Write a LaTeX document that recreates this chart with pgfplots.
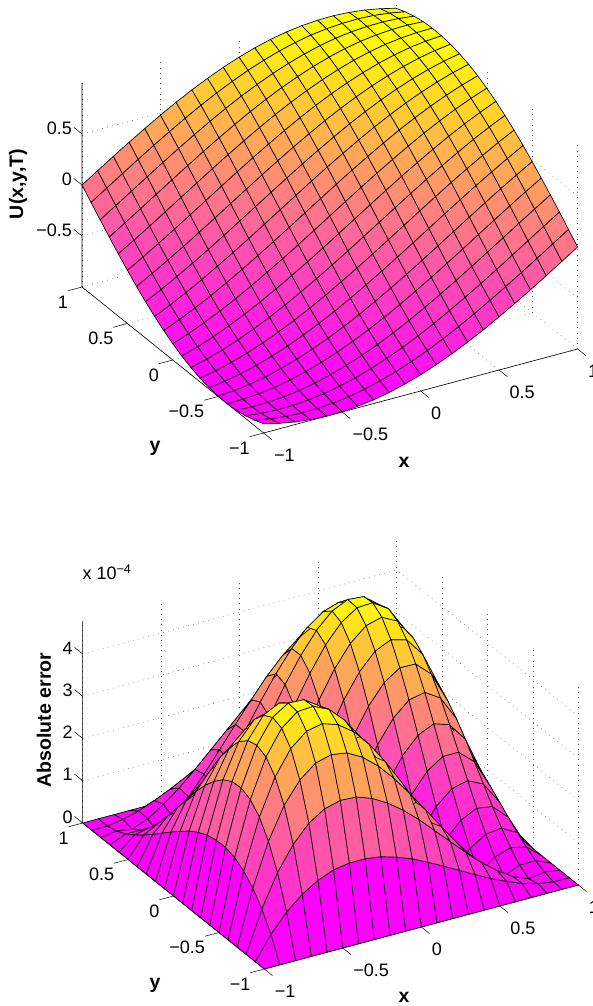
\documentclass[border=0pt]{standalone}
\usepackage{pgfplots}
\pgfplotsset{compat=1.18}
\usepackage{fontspec}
\setmainfont{Liberation Sans}
\newcommand{\tf}{\fontsize{18}{18}\selectfont}
\newcommand{\lf}{\bfseries\fontsize{19.5}{19.5}\selectfont}
\pgfplotsset{
 common/.style={
  x={(157pt,42pt)}, y={(-90.8pt,73pt)},
  xmin=-1,xmax=1,ymin=-1,ymax=1,
  clip=false, anchor=origin,
  axis line style={draw=none},
  xtick={-1,-0.5,0,0.5,1}, ytick={-1,-0.5,0,0.5,1},
  xticklabels={−1,−0.5,0,0.5,1}, yticklabels={−1,−0.5,0,0.5,1},
  grid=major,
  grid style={line width=.5pt,black!65,dash pattern=on .7pt off 4.5pt},
  major tick length=0pt,
  tick style={draw=none},
  tick label style={font=\tf,black,inner sep=0pt,outer sep=0pt},
  xticklabel style={anchor=west,xshift=10.5pt,yshift=-22pt},
  yticklabel style={anchor=east,xshift=-14pt,yshift=-15pt},
  zticklabel style={anchor=east,xshift=-10pt,yshift=6pt},
  colormap={spring}{rgb255(0cm)=(255,0,255); rgb255(1cm)=(255,255,0)},
 },
 surfs/.style={surf,shader=flat corner,draw=black,line width=.65pt,z buffer=sort,mesh/rows=21,mesh/cols=21}
}
\begin{document}
\begin{tikzpicture}
\clip (0,0) rectangle (592pt,1006pt);
\begin{axis}[common, at={(329.8pt,790pt)}, z={(0pt,102pt)}, zmin=-1,zmax=1,
 ztick={-0.5,0,0.5}, zticklabels={−0.5,0,0.5}]
\addplot3[surfs] table {
-1 -1 -.909
-.9 -1 -.946
-.8 -1 -.974
-.7 -1 -.992
-.6 -1 -1.000
-.5 -1 -.997
-.4 -1 -.985
-.3 -1 -.964
-.2 -1 -.932
-.1 -1 -.891
0 -1 -.841
.1 -1 -.783
.2 -1 -.717
.3 -1 -.644
.4 -1 -.565
.5 -1 -.479
.6 -1 -.389
.7 -1 -.296
.8 -1 -.199
.9 -1 -.100
1 -1 0
-1 -.9 -.946
-.9 -.9 -.974
-.8 -.9 -.992
-.7 -.9 -1.000
-.6 -.9 -.997
-.5 -.9 -.985
-.4 -.9 -.964
-.3 -.9 -.932
-.2 -.9 -.891
-.1 -.9 -.841
0 -.9 -.783
.1 -.9 -.717
.2 -.9 -.644
.3 -.9 -.565
.4 -.9 -.479
.5 -.9 -.389
.6 -.9 -.296
.7 -.9 -.199
.8 -.9 -.100
.9 -.9 0
1 -.9 .100
-1 -.8 -.974
-.9 -.8 -.992
-.8 -.8 -1.000
-.7 -.8 -.997
-.6 -.8 -.985
-.5 -.8 -.964
-.4 -.8 -.932
-.3 -.8 -.891
-.2 -.8 -.841
-.1 -.8 -.783
0 -.8 -.717
.1 -.8 -.644
.2 -.8 -.565
.3 -.8 -.479
.4 -.8 -.389
.5 -.8 -.296
.6 -.8 -.199
.7 -.8 -.100
.8 -.8 0
.9 -.8 .100
1 -.8 .199
-1 -.7 -.992
-.9 -.7 -1.000
-.8 -.7 -.997
-.7 -.7 -.985
-.6 -.7 -.964
-.5 -.7 -.932
-.4 -.7 -.891
-.3 -.7 -.841
-.2 -.7 -.783
-.1 -.7 -.717
0 -.7 -.644
.1 -.7 -.565
.2 -.7 -.479
.3 -.7 -.389
.4 -.7 -.296
.5 -.7 -.199
.6 -.7 -.100
.7 -.7 0
.8 -.7 .100
.9 -.7 .199
1 -.7 .296
-1 -.6 -1.000
-.9 -.6 -.997
-.8 -.6 -.985
-.7 -.6 -.964
-.6 -.6 -.932
-.5 -.6 -.891
-.4 -.6 -.841
-.3 -.6 -.783
-.2 -.6 -.717
-.1 -.6 -.644
0 -.6 -.565
.1 -.6 -.479
.2 -.6 -.389
.3 -.6 -.296
.4 -.6 -.199
.5 -.6 -.100
.6 -.6 0
.7 -.6 .100
.8 -.6 .199
.9 -.6 .296
1 -.6 .389
-1 -.5 -.997
-.9 -.5 -.985
-.8 -.5 -.964
-.7 -.5 -.932
-.6 -.5 -.891
-.5 -.5 -.841
-.4 -.5 -.783
-.3 -.5 -.717
-.2 -.5 -.644
-.1 -.5 -.565
0 -.5 -.479
.1 -.5 -.389
.2 -.5 -.296
.3 -.5 -.199
.4 -.5 -.100
.5 -.5 0
.6 -.5 .100
.7 -.5 .199
.8 -.5 .296
.9 -.5 .389
1 -.5 .479
-1 -.4 -.985
-.9 -.4 -.964
-.8 -.4 -.932
-.7 -.4 -.891
-.6 -.4 -.841
-.5 -.4 -.783
-.4 -.4 -.717
-.3 -.4 -.644
-.2 -.4 -.565
-.1 -.4 -.479
0 -.4 -.389
.1 -.4 -.296
.2 -.4 -.199
.3 -.4 -.100
.4 -.4 0
.5 -.4 .100
.6 -.4 .199
.7 -.4 .296
.8 -.4 .389
.9 -.4 .479
1 -.4 .565
-1 -.3 -.964
-.9 -.3 -.932
-.8 -.3 -.891
-.7 -.3 -.841
-.6 -.3 -.783
-.5 -.3 -.717
-.4 -.3 -.644
-.3 -.3 -.565
-.2 -.3 -.479
-.1 -.3 -.389
0 -.3 -.296
.1 -.3 -.199
.2 -.3 -.100
.3 -.3 0
.4 -.3 .100
.5 -.3 .199
.6 -.3 .296
.7 -.3 .389
.8 -.3 .479
.9 -.3 .565
1 -.3 .644
-1 -.2 -.932
-.9 -.2 -.891
-.8 -.2 -.841
-.7 -.2 -.783
-.6 -.2 -.717
-.5 -.2 -.644
-.4 -.2 -.565
-.3 -.2 -.479
-.2 -.2 -.389
-.1 -.2 -.296
0 -.2 -.199
.1 -.2 -.100
.2 -.2 0
.3 -.2 .100
.4 -.2 .199
.5 -.2 .296
.6 -.2 .389
.7 -.2 .479
.8 -.2 .565
.9 -.2 .644
1 -.2 .717
-1 -.1 -.891
-.9 -.1 -.841
-.8 -.1 -.783
-.7 -.1 -.717
-.6 -.1 -.644
-.5 -.1 -.565
-.4 -.1 -.479
-.3 -.1 -.389
-.2 -.1 -.296
-.1 -.1 -.199
0 -.1 -.100
.1 -.1 0
.2 -.1 .100
.3 -.1 .199
.4 -.1 .296
.5 -.1 .389
.6 -.1 .479
.7 -.1 .565
.8 -.1 .644
.9 -.1 .717
1 -.1 .783
-1 0 -.841
-.9 0 -.783
-.8 0 -.717
-.7 0 -.644
-.6 0 -.565
-.5 0 -.479
-.4 0 -.389
-.3 0 -.296
-.2 0 -.199
-.1 0 -.100
0 0 0
.1 0 .100
.2 0 .199
.3 0 .296
.4 0 .389
.5 0 .479
.6 0 .565
.7 0 .644
.8 0 .717
.9 0 .783
1 0 .841
-1 .1 -.783
-.9 .1 -.717
-.8 .1 -.644
-.7 .1 -.565
-.6 .1 -.479
-.5 .1 -.389
-.4 .1 -.296
-.3 .1 -.199
-.2 .1 -.100
-.1 .1 0
0 .1 .100
.1 .1 .199
.2 .1 .296
.3 .1 .389
.4 .1 .479
.5 .1 .565
.6 .1 .644
.7 .1 .717
.8 .1 .783
.9 .1 .841
1 .1 .891
-1 .2 -.717
-.9 .2 -.644
-.8 .2 -.565
-.7 .2 -.479
-.6 .2 -.389
-.5 .2 -.296
-.4 .2 -.199
-.3 .2 -.100
-.2 .2 0
-.1 .2 .100
0 .2 .199
.1 .2 .296
.2 .2 .389
.3 .2 .479
.4 .2 .565
.5 .2 .644
.6 .2 .717
.7 .2 .783
.8 .2 .841
.9 .2 .891
1 .2 .932
-1 .3 -.644
-.9 .3 -.565
-.8 .3 -.479
-.7 .3 -.389
-.6 .3 -.296
-.5 .3 -.199
-.4 .3 -.100
-.3 .3 0
-.2 .3 .100
-.1 .3 .199
0 .3 .296
.1 .3 .389
.2 .3 .479
.3 .3 .565
.4 .3 .644
.5 .3 .717
.6 .3 .783
.7 .3 .841
.8 .3 .891
.9 .3 .932
1 .3 .964
-1 .4 -.565
-.9 .4 -.479
-.8 .4 -.389
-.7 .4 -.296
-.6 .4 -.199
-.5 .4 -.100
-.4 .4 0
-.3 .4 .100
-.2 .4 .199
-.1 .4 .296
0 .4 .389
.1 .4 .479
.2 .4 .565
.3 .4 .644
.4 .4 .717
.5 .4 .783
.6 .4 .841
.7 .4 .891
.8 .4 .932
.9 .4 .964
1 .4 .985
-1 .5 -.479
-.9 .5 -.389
-.8 .5 -.296
-.7 .5 -.199
-.6 .5 -.100
-.5 .5 0
-.4 .5 .100
-.3 .5 .199
-.2 .5 .296
-.1 .5 .389
0 .5 .479
.1 .5 .565
.2 .5 .644
.3 .5 .717
.4 .5 .783
.5 .5 .841
.6 .5 .891
.7 .5 .932
.8 .5 .964
.9 .5 .985
1 .5 .997
-1 .6 -.389
-.9 .6 -.296
-.8 .6 -.199
-.7 .6 -.100
-.6 .6 0
-.5 .6 .100
-.4 .6 .199
-.3 .6 .296
-.2 .6 .389
-.1 .6 .479
0 .6 .565
.1 .6 .644
.2 .6 .717
.3 .6 .783
.4 .6 .841
.5 .6 .891
.6 .6 .932
.7 .6 .964
.8 .6 .985
.9 .6 .997
1 .6 1.000
-1 .7 -.296
-.9 .7 -.199
-.8 .7 -.100
-.7 .7 0
-.6 .7 .100
-.5 .7 .199
-.4 .7 .296
-.3 .7 .389
-.2 .7 .479
-.1 .7 .565
0 .7 .644
.1 .7 .717
.2 .7 .783
.3 .7 .841
.4 .7 .891
.5 .7 .932
.6 .7 .964
.7 .7 .985
.8 .7 .997
.9 .7 1.000
1 .7 .992
-1 .8 -.199
-.9 .8 -.100
-.8 .8 0
-.7 .8 .100
-.6 .8 .199
-.5 .8 .296
-.4 .8 .389
-.3 .8 .479
-.2 .8 .565
-.1 .8 .644
0 .8 .717
.1 .8 .783
.2 .8 .841
.3 .8 .891
.4 .8 .932
.5 .8 .964
.6 .8 .985
.7 .8 .997
.8 .8 1.000
.9 .8 .992
1 .8 .974
-1 .9 -.100
-.9 .9 0
-.8 .9 .100
-.7 .9 .199
-.6 .9 .296
-.5 .9 .389
-.4 .9 .479
-.3 .9 .565
-.2 .9 .644
-.1 .9 .717
0 .9 .783
.1 .9 .841
.2 .9 .891
.3 .9 .932
.4 .9 .964
.5 .9 .985
.6 .9 .997
.7 .9 1.000
.8 .9 .992
.9 .9 .974
1 .9 .946
-1 1 0
-.9 1 .100
-.8 1 .199
-.7 1 .296
-.6 1 .389
-.5 1 .479
-.4 1 .565
-.3 1 .644
-.2 1 .717
-.1 1 .783
0 1 .841
.1 1 .891
.2 1 .932
.3 1 .964
.4 1 .985
.5 1 .997
.6 1 1.000
.7 1 .992
.8 1 .974
.9 1 .946
1 1 .909
};
\draw[line width=.6pt] (axis cs:-1,1,1)--(axis cs:-1,1,-1)--(axis cs:-1,-1,-1)--(axis cs:1,-1,-1);
\draw[line width=.5pt] (axis cs:-1,-1,-1)--(axis cs:-1,-1.09,-1) (axis cs:-.5,-1,-1)--(axis cs:-.5,-1.09,-1) (axis cs:0,-1,-1)--(axis cs:0,-1.09,-1) (axis cs:.5,-1,-1)--(axis cs:.5,-1.09,-1) (axis cs:1,-1,-1)--(axis cs:1,-1.09,-1);
\draw[line width=.5pt] (axis cs:-1,-1,-1)--(axis cs:-1.09,-1,-1) (axis cs:-1,-.5,-1)--(axis cs:-1.09,-.5,-1) (axis cs:-1,0,-1)--(axis cs:-1.09,0,-1) (axis cs:-1,.5,-1)--(axis cs:-1.09,.5,-1) (axis cs:-1,1,-1)--(axis cs:-1.09,1,-1);
\draw[line width=.5pt] (axis cs:-1,1,-.5)--(axis cs:-1,1.09,-.5) (axis cs:-1,1,0)--(axis cs:-1,1.09,0) (axis cs:-1,1,.5)--(axis cs:-1,1.09,.5);
\end{axis}
\begin{axis}[common, at={(330.5pt,152pt)}, z={(0pt,42.25pt)}, zmin=0,zmax=4.78,
 ztick={0,1,2,3,4}, zticklabels={0,1,2,3,4}]
\addplot3[surfs] table {
-1 -1 0
-.9 -1 0
-.8 -1 0
-.7 -1 0
-.6 -1 0
-.5 -1 0
-.4 -1 0
-.3 -1 0
-.2 -1 0
-.1 -1 0
0 -1 0
.1 -1 0
.2 -1 0
.3 -1 0
.4 -1 0
.5 -1 0
.6 -1 0
.7 -1 0
.8 -1 0
.9 -1 0
1 -1 0
-1 -.9 0
-.9 -.9 .55
-.8 -.9 .98
-.7 -.9 1.30
-.6 -.9 1.53
-.5 -.9 1.68
-.4 -.9 1.74
-.3 -.9 1.74
-.2 -.9 1.69
-.1 -.9 1.58
0 -.9 1.44
.1 -.9 1.26
.2 -.9 1.07
.3 -.9 .87
.4 -.9 .67
.5 -.9 .48
.6 -.9 .31
.7 -.9 .16
.8 -.9 .06
.9 -.9 0
1 -.9 0
-1 -.8 0
-.9 -.8 .98
-.8 -.8 1.74
-.7 -.8 2.31
-.6 -.8 2.71
-.5 -.8 2.95
-.4 -.8 3.05
-.3 -.8 3.03
-.2 -.8 2.90
-.1 -.8 2.69
0 -.8 2.42
.1 -.8 2.10
.2 -.8 1.74
.3 -.8 1.38
.4 -.8 1.02
.5 -.8 .68
.6 -.8 .39
.7 -.8 .15
.8 -.8 0
.9 -.8 .06
1 -.8 0
-1 -.7 0
-.9 -.7 1.30
-.8 -.7 2.31
-.7 -.7 3.06
-.6 -.7 3.56
-.5 -.7 3.86
-.4 -.7 3.96
-.3 -.7 3.90
-.2 -.7 3.70
-.1 -.7 3.39
0 -.7 3.00
.1 -.7 2.54
.2 -.7 2.06
.3 -.7 1.56
.4 -.7 1.08
.5 -.7 .64
.6 -.7 .27
.7 -.7 0
.8 -.7 .15
.9 -.7 .16
1 -.7 0
-1 -.6 0
-.9 -.6 1.53
-.8 -.6 2.71
-.7 -.6 3.56
-.6 -.6 4.13
-.5 -.6 4.44
-.4 -.6 4.52
-.3 -.6 4.40
-.2 -.6 4.13
-.1 -.6 3.73
0 -.6 3.23
.1 -.6 2.66
.2 -.6 2.06
.3 -.6 1.47
.4 -.6 .90
.5 -.6 .40
.6 -.6 0
.7 -.6 .27
.8 -.6 .39
.9 -.6 .31
1 -.6 0
-1 -.5 0
-.9 -.5 1.68
-.8 -.5 2.95
-.7 -.5 3.86
-.6 -.5 4.44
-.5 -.5 4.73
-.4 -.5 4.76
-.3 -.5 4.59
-.2 -.5 4.23
-.1 -.5 3.74
0 -.5 3.15
.1 -.5 2.49
.2 -.5 1.81
.3 -.5 1.15
.4 -.5 .53
.5 -.5 0
.6 -.5 .40
.7 -.5 .64
.8 -.5 .68
.9 -.5 .48
1 -.5 0
-1 -.4 0
-.9 -.4 1.74
-.8 -.4 3.05
-.7 -.4 3.96
-.6 -.4 4.52
-.5 -.4 4.76
-.4 -.4 4.74
-.3 -.4 4.49
-.2 -.4 4.06
-.1 -.4 3.49
0 -.4 2.82
.1 -.4 2.10
.2 -.4 1.35
.3 -.4 .64
.4 -.4 0
.5 -.4 .53
.6 -.4 .90
.7 -.4 1.08
.8 -.4 1.02
.9 -.4 .67
1 -.4 0
-1 -.3 0
-.9 -.3 1.74
-.8 -.3 3.03
-.7 -.3 3.90
-.6 -.3 4.40
-.5 -.3 4.59
-.4 -.3 4.49
-.3 -.3 4.17
-.2 -.3 3.67
-.1 -.3 3.03
0 -.3 2.29
.1 -.3 1.51
.2 -.3 .73
.3 -.3 0
.4 -.3 .64
.5 -.3 1.15
.6 -.3 1.47
.7 -.3 1.56
.8 -.3 1.38
.9 -.3 .87
1 -.3 0
-1 -.2 0
-.9 -.2 1.69
-.8 -.2 2.90
-.7 -.2 3.70
-.6 -.2 4.13
-.5 -.2 4.23
-.4 -.2 4.06
-.3 -.2 3.67
-.2 -.2 3.10
-.1 -.2 2.40
0 -.2 1.61
.1 -.2 .80
.2 -.2 0
.3 -.2 .73
.4 -.2 1.35
.5 -.2 1.81
.6 -.2 2.06
.7 -.2 2.06
.8 -.2 1.74
.9 -.2 1.07
1 -.2 0
-1 -.1 0
-.9 -.1 1.58
-.8 -.1 2.69
-.7 -.1 3.39
-.6 -.1 3.73
-.5 -.1 3.74
-.4 -.1 3.49
-.3 -.1 3.03
-.2 -.1 2.40
-.1 -.1 1.65
0 -.1 .83
.1 -.1 0
.2 -.1 .80
.3 -.1 1.51
.4 -.1 2.10
.5 -.1 2.49
.6 -.1 2.66
.7 -.1 2.54
.8 -.1 2.10
.9 -.1 1.26
1 -.1 0
-1 0 0
-.9 0 1.44
-.8 0 2.42
-.7 0 3.00
-.6 0 3.23
-.5 0 3.15
-.4 0 2.82
-.3 0 2.29
-.2 0 1.61
-.1 0 .83
0 0 0
.1 0 .83
.2 0 1.61
.3 0 2.29
.4 0 2.82
.5 0 3.15
.6 0 3.23
.7 0 3.00
.8 0 2.42
.9 0 1.44
1 0 0
-1 .1 0
-.9 .1 1.26
-.8 .1 2.10
-.7 .1 2.54
-.6 .1 2.66
-.5 .1 2.49
-.4 .1 2.10
-.3 .1 1.51
-.2 .1 .80
-.1 .1 0
0 .1 .83
.1 .1 1.65
.2 .1 2.40
.3 .1 3.03
.4 .1 3.49
.5 .1 3.74
.6 .1 3.73
.7 .1 3.39
.8 .1 2.69
.9 .1 1.58
1 .1 0
-1 .2 0
-.9 .2 1.07
-.8 .2 1.74
-.7 .2 2.06
-.6 .2 2.06
-.5 .2 1.81
-.4 .2 1.35
-.3 .2 .73
-.2 .2 0
-.1 .2 .80
0 .2 1.61
.1 .2 2.40
.2 .2 3.10
.3 .2 3.67
.4 .2 4.06
.5 .2 4.23
.6 .2 4.13
.7 .2 3.70
.8 .2 2.90
.9 .2 1.69
1 .2 0
-1 .3 0
-.9 .3 .87
-.8 .3 1.38
-.7 .3 1.56
-.6 .3 1.47
-.5 .3 1.15
-.4 .3 .64
-.3 .3 0
-.2 .3 .73
-.1 .3 1.51
0 .3 2.29
.1 .3 3.03
.2 .3 3.67
.3 .3 4.17
.4 .3 4.49
.5 .3 4.59
.6 .3 4.40
.7 .3 3.90
.8 .3 3.03
.9 .3 1.74
1 .3 0
-1 .4 0
-.9 .4 .67
-.8 .4 1.02
-.7 .4 1.08
-.6 .4 .90
-.5 .4 .53
-.4 .4 0
-.3 .4 .64
-.2 .4 1.35
-.1 .4 2.10
0 .4 2.82
.1 .4 3.49
.2 .4 4.06
.3 .4 4.49
.4 .4 4.74
.5 .4 4.76
.6 .4 4.52
.7 .4 3.96
.8 .4 3.05
.9 .4 1.74
1 .4 0
-1 .5 0
-.9 .5 .48
-.8 .5 .68
-.7 .5 .64
-.6 .5 .40
-.5 .5 0
-.4 .5 .53
-.3 .5 1.15
-.2 .5 1.81
-.1 .5 2.49
0 .5 3.15
.1 .5 3.74
.2 .5 4.23
.3 .5 4.59
.4 .5 4.76
.5 .5 4.73
.6 .5 4.44
.7 .5 3.86
.8 .5 2.95
.9 .5 1.68
1 .5 0
-1 .6 0
-.9 .6 .31
-.8 .6 .39
-.7 .6 .27
-.6 .6 0
-.5 .6 .40
-.4 .6 .90
-.3 .6 1.47
-.2 .6 2.06
-.1 .6 2.66
0 .6 3.23
.1 .6 3.73
.2 .6 4.13
.3 .6 4.40
.4 .6 4.52
.5 .6 4.44
.6 .6 4.13
.7 .6 3.56
.8 .6 2.71
.9 .6 1.53
1 .6 0
-1 .7 0
-.9 .7 .16
-.8 .7 .15
-.7 .7 0
-.6 .7 .27
-.5 .7 .64
-.4 .7 1.08
-.3 .7 1.56
-.2 .7 2.06
-.1 .7 2.54
0 .7 3.00
.1 .7 3.39
.2 .7 3.70
.3 .7 3.90
.4 .7 3.96
.5 .7 3.86
.6 .7 3.56
.7 .7 3.06
.8 .7 2.31
.9 .7 1.30
1 .7 0
-1 .8 0
-.9 .8 .06
-.8 .8 0
-.7 .8 .15
-.6 .8 .39
-.5 .8 .68
-.4 .8 1.02
-.3 .8 1.38
-.2 .8 1.74
-.1 .8 2.10
0 .8 2.42
.1 .8 2.69
.2 .8 2.90
.3 .8 3.03
.4 .8 3.05
.5 .8 2.95
.6 .8 2.71
.7 .8 2.31
.8 .8 1.74
.9 .8 .98
1 .8 0
-1 .9 0
-.9 .9 0
-.8 .9 .06
-.7 .9 .16
-.6 .9 .31
-.5 .9 .48
-.4 .9 .67
-.3 .9 .87
-.2 .9 1.07
-.1 .9 1.26
0 .9 1.44
.1 .9 1.58
.2 .9 1.69
.3 .9 1.74
.4 .9 1.74
.5 .9 1.68
.6 .9 1.53
.7 .9 1.30
.8 .9 .98
.9 .9 .55
1 .9 0
-1 1 0
-.9 1 0
-.8 1 0
-.7 1 0
-.6 1 0
-.5 1 0
-.4 1 0
-.3 1 0
-.2 1 0
-.1 1 0
0 1 0
.1 1 0
.2 1 0
.3 1 0
.4 1 0
.5 1 0
.6 1 0
.7 1 0
.8 1 0
.9 1 0
1 1 0
};
\draw[line width=.6pt] (axis cs:-1,1,4.78)--(axis cs:-1,1,0)--(axis cs:-1,-1,0)--(axis cs:1,-1,0);
\draw[line width=.5pt] (axis cs:-1,-1,0)--(axis cs:-1,-1.09,0) (axis cs:-.5,-1,0)--(axis cs:-.5,-1.09,0) (axis cs:0,-1,0)--(axis cs:0,-1.09,0) (axis cs:.5,-1,0)--(axis cs:.5,-1.09,0) (axis cs:1,-1,0)--(axis cs:1,-1.09,0);
\draw[line width=.5pt] (axis cs:-1,-1,0)--(axis cs:-1.09,-1,0) (axis cs:-1,-.5,0)--(axis cs:-1.09,-.5,0) (axis cs:-1,0,0)--(axis cs:-1.09,0,0) (axis cs:-1,.5,0)--(axis cs:-1.09,.5,0) (axis cs:-1,1,0)--(axis cs:-1.09,1,0);
\draw[line width=.5pt] (axis cs:-1,1,0)--(axis cs:-1,1.09,0) (axis cs:-1,1,1)--(axis cs:-1,1.09,1) (axis cs:-1,1,2)--(axis cs:-1,1.09,2) (axis cs:-1,1,3)--(axis cs:-1,1.09,3) (axis cs:-1,1,4)--(axis cs:-1,1.09,4);
\end{axis}
\node[rotate=90,font=\lf] at (18pt,822pt) {U(x,y,T)};
\node[font=\lf] at (404pt,544pt) {x};
\node[font=\lf] at (155pt,558pt) {y};
\node[rotate=90,font=\lf] at (44pt,286pt) {Absolute error};
\node[font=\lf] at (404pt,9pt) {x};
\node[font=\lf] at (155pt,21pt) {y};
\node[font=\tf] at (107pt,434pt) {x 10\textsuperscript{−4}};
\end{tikzpicture}
\end{document}
